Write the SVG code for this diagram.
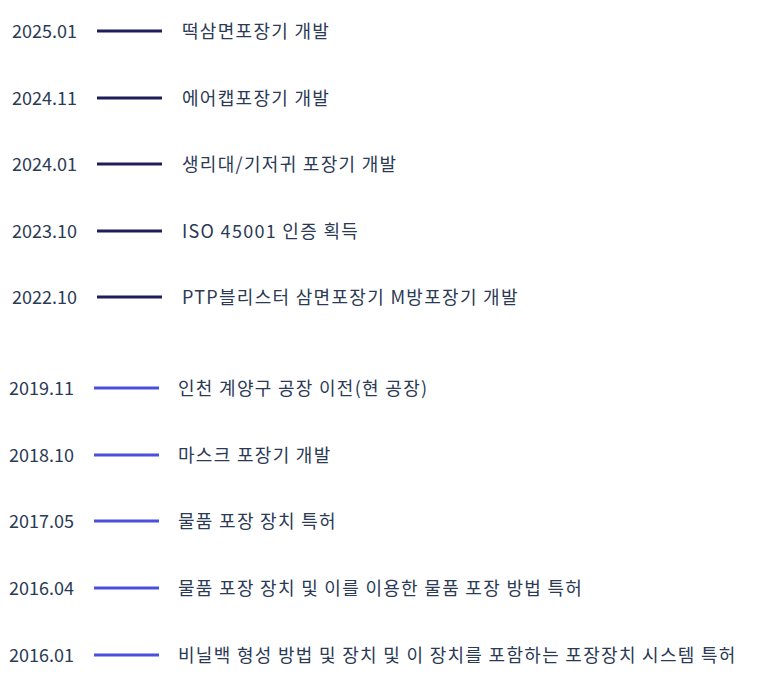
<svg xmlns="http://www.w3.org/2000/svg" width="760" height="700" viewBox="0 0 760 700">
<style>
text{font-family:"Noto Sans CJK KR","Noto Sans",sans-serif;font-size:18px;fill:#2b3a55}
.l{letter-spacing:1.3px}
.a{stroke:#1f1d5c;stroke-width:3}
.b{stroke:#4a50dc;stroke-width:3}
</style>
<rect width="760" height="700" fill="#fff"/>
<g id="connectors">
<line class="a" x1="97" y1="31" x2="162" y2="31"/>
<line class="a" x1="97" y1="98" x2="162" y2="98"/>
<line class="a" x1="97" y1="164" x2="162" y2="164"/>
<line class="a" x1="97" y1="231" x2="162" y2="231"/>
<line class="a" x1="97" y1="297" x2="162" y2="297"/>
<line class="b" x1="94" y1="388" x2="159" y2="388"/>
<line class="b" x1="94" y1="455" x2="159" y2="455"/>
<line class="b" x1="94" y1="521" x2="159" y2="521"/>
<line class="b" x1="94" y1="588" x2="159" y2="588"/>
<line class="b" x1="94" y1="655" x2="159" y2="655"/>
</g>
<g id="n1"><text x="12" y="38">2025.01</text><text class="l" x="182" y="38">떡삼면포장기 개발</text></g>
<g id="n2"><text x="12" y="105">2024.11</text><text class="l" x="182" y="105">에어캡포장기 개발</text></g>
<g id="n3"><text x="12" y="171">2024.01</text><text class="l" x="182" y="171">생리대/기저귀 포장기 개발</text></g>
<g id="n4"><text x="12" y="238">2023.10</text><text class="l" x="182" y="238">ISO 45001 인증 획득</text></g>
<g id="n5"><text x="12" y="304">2022.10</text><text class="l" x="182" y="304">PTP블리스터 삼면포장기 M방포장기 개발</text></g>
<g id="n6"><text x="9" y="395">2019.11</text><text class="l" x="178" y="395">인천 계양구 공장 이전(현 공장)</text></g>
<g id="n7"><text x="9" y="462">2018.10</text><text class="l" x="178" y="462">마스크 포장기 개발</text></g>
<g id="n8"><text x="9" y="528">2017.05</text><text class="l" x="178" y="528">물품 포장 장치 특허</text></g>
<g id="n9"><text x="9" y="595">2016.04</text><text class="l" x="178" y="595">물품 포장 장치 및 이를 이용한 물품 포장 방법 특허</text></g>
<g id="n10"><text x="9" y="662">2016.01</text><text class="l" x="178" y="662">비닐백 형성 방법 및 장치 및 이 장치를 포함하는 포장장치 시스템 특허</text></g>
</svg>
